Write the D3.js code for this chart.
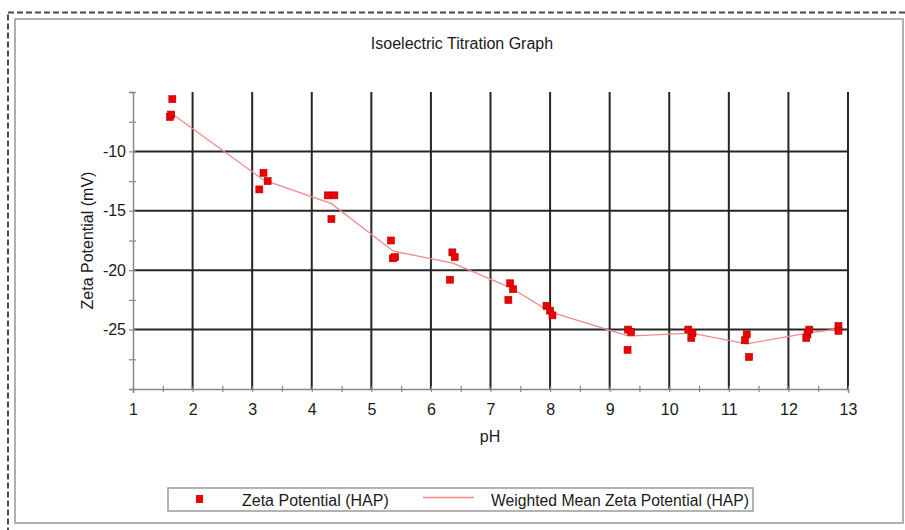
<!DOCTYPE html>
<html>
<head>
<meta charset="utf-8">
<script src="https://cdn.jsdelivr.net/npm/d3@7"></script>
<style>
  body { margin: 0; background: #fff; }
  svg { display: block; font-family: 'Liberation Sans', Arial, sans-serif; }
</style>
</head>
<body>
<div id="chart"></div>
<script>
// measured zeta potential points (pH, mV)
const pointPh = [1.66, 1.62, 1.64, 3.19, 3.26, 3.12, 4.27, 4.38, 4.33, 5.33, 5.36, 5.40,
  6.36, 6.40, 6.32, 7.33, 7.38, 7.30, 7.94, 8.00, 8.04, 9.31, 9.36, 9.30,
  10.32, 10.39, 10.37, 11.30, 11.27, 11.34, 12.35, 12.32, 12.30, 12.84, 12.84];
const pointZeta = [-5.6, -7.1, -6.9, -11.8, -12.5, -13.2, -13.7, -13.7, -15.7, -17.5, -19.0, -18.9,
  -18.5, -18.9, -20.8, -21.1, -21.6, -22.5, -23.0, -23.4, -23.8, -25.0, -25.2, -26.7,
  -25.0, -25.3, -25.7, -25.4, -25.9, -27.3, -25.0, -25.4, -25.7, -24.7, -25.1];

// weighted mean line
const meanPh = [1.66, 3.19, 4.33, 5.37, 6.37, 7.35, 8.0, 9.32, 10.37, 11.3, 12.32, 12.84];
const meanZeta = [-6.85, -12.4, -14.4, -18.4, -19.4, -21.5, -23.5, -25.55, -25.3, -26.2, -25.3, -24.95];

const xTicks = [1, 2, 3, 4, 5, 6, 7, 8, 9, 10, 11, 12, 13];
const yTicks = [-10, -15, -20, -25];

const width = 905;
const height = 530;
const plot = { left: 133, right: 848, top: 92, bottom: 389 };
const textColor = '#1a1a1a';

const svg = d3.select('#chart').append('svg')
  .attr('width', width)
  .attr('height', height);

// frames
svg.append('rect')
  .attr('x', 8).attr('y', 12.5).attr('width', width).attr('height', height)
  .attr('fill', 'none').attr('stroke', '#4a4a4a').attr('stroke-width', 2)
  .attr('stroke-dasharray', '6,3');
svg.append('rect')
  .attr('x', 15).attr('y', 19).attr('width', 888).attr('height', 504)
  .attr('fill', '#fff').attr('stroke', '#b0b0b0').attr('stroke-width', 2);

const x = d3.scaleLinear().domain([1, 13]).range([plot.left, plot.right]);
const y = d3.scaleLinear().domain([-30, -5]).range([plot.bottom, plot.top]);

svg.append('text')
  .attr('x', 462).attr('y', 49)
  .attr('text-anchor', 'middle')
  .attr('font-size', 16)
  .attr('fill', textColor)
  .text('Isoelectric Titration Graph');

// grid
const grid = svg.append('g').attr('stroke', '#262626').attr('stroke-width', 2);
grid.selectAll('line.v')
  .data(xTicks.slice(1))
  .join('line')
  .attr('class', 'v')
  .attr('x1', (d) => x(d)).attr('x2', (d) => x(d))
  .attr('y1', y(-5)).attr('y2', y(-30));
grid.selectAll('line.h')
  .data(yTicks)
  .join('line')
  .attr('class', 'h')
  .attr('x1', x(1)).attr('x2', x(13))
  .attr('y1', (d) => y(d)).attr('y2', (d) => y(d));

// axes
const xAxis = svg.append('g')
  .attr('transform', `translate(0, ${plot.bottom})`)
  .call(d3.axisBottom(x).tickValues(d3.range(1, 13.01, 0.5)).tickSize(4)
    .tickFormat((d) => (Number.isInteger(d) ? d : '')));
const yAxis = svg.append('g')
  .attr('transform', `translate(${plot.left}, 0)`)
  .call(d3.axisLeft(y).tickValues(d3.range(-30, -4.99, 2.5)).tickSize(4)
    .tickFormat((d) => (yTicks.includes(d) ? d : '')));

[xAxis, yAxis].forEach((g) => {
  g.select('.domain').attr('stroke', '#888').attr('stroke-width', 1.5);
  g.selectAll('.tick line').attr('stroke', '#888').attr('stroke-width', 1.2);
  g.selectAll('.tick text').attr('font-size', 16).attr('fill', textColor)
    .attr('font-family', "'Liberation Sans', Arial, sans-serif");
});
xAxis.selectAll('.tick line').attr('y1', -3).attr('y2', 3);
xAxis.selectAll('.tick text').attr('y', 15);
yAxis.selectAll('.tick line').attr('x1', -4).attr('x2', 3);
yAxis.selectAll('.tick text').attr('x', -7);

svg.append('text')
  .attr('x', 490).attr('y', 442)
  .attr('text-anchor', 'middle')
  .attr('font-size', 16).attr('fill', textColor)
  .text('pH');
svg.append('text')
  .attr('transform', `translate(93, ${(plot.top + plot.bottom) / 2}) rotate(-90)`)
  .attr('text-anchor', 'middle')
  .attr('font-size', 16).attr('fill', textColor)
  .text('Zeta Potential (mV)');

// weighted mean line
const meanData = meanPh.map((d, i) => [d, meanZeta[i]]);
svg.append('path')
  .datum(meanData)
  .attr('fill', 'none')
  .attr('stroke', '#f08a8a')
  .attr('stroke-width', 1.3)
  .attr('d', d3.line().x((d) => x(d[0])).y((d) => y(d[1])));

// points
const points = pointPh.map((d, i) => [d, pointZeta[i]]);
svg.append('g').selectAll('rect')
  .data(points)
  .join('rect')
  .attr('x', (d) => x(d[0]) - 3.5)
  .attr('y', (d) => y(d[1]) - 3.5)
  .attr('width', 7).attr('height', 7)
  .attr('fill', '#ee0000')
  .attr('stroke', '#b00000')
  .attr('stroke-width', 0.6);

// legend
const legend = svg.append('g');
legend.append('rect')
  .attr('x', 168).attr('y', 488).attr('width', 585).attr('height', 23)
  .attr('fill', '#fff').attr('stroke', '#9a9a9a').attr('stroke-width', 1.5);
legend.append('rect')
  .attr('x', 196).attr('y', 495).attr('width', 7).attr('height', 8)
  .attr('fill', '#ee0000');
legend.append('text')
  .attr('x', 242).attr('y', 506)
  .attr('font-size', 16).attr('fill', textColor)
  .text('Zeta Potential (HAP)');
legend.append('line')
  .attr('x1', 423).attr('x2', 474).attr('y1', 497.5).attr('y2', 497.5)
  .attr('stroke', '#f08a8a').attr('stroke-width', 1.3);
legend.append('text')
  .attr('x', 491).attr('y', 506)
  .attr('font-size', 16).attr('fill', textColor)
  .attr('textLength', 258).attr('lengthAdjust', 'spacingAndGlyphs')
  .text('Weighted Mean Zeta Potential (HAP)');
</script>
</body>
</html>
